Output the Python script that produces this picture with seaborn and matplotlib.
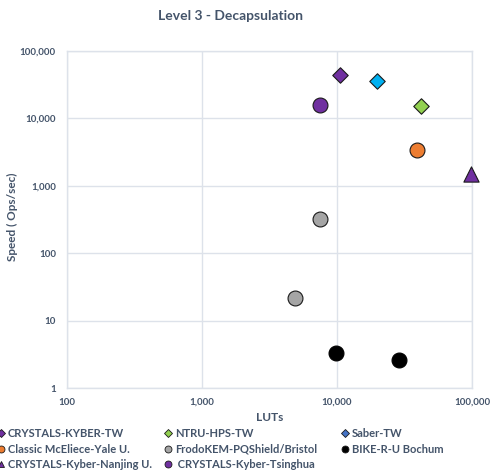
import matplotlib
matplotlib.use("Agg")
import matplotlib.pyplot as plt
from matplotlib.lines import Line2D
from matplotlib.ticker import FuncFormatter, FixedLocator, NullLocator
import seaborn as sns
import pandas as pd

# Implementation results: Level 3 decapsulation
series = [
    "CRYSTALS-KYBER-TW",
    "NTRU-HPS-TW",
    "Saber-TW",
    "Classic McEliece-Yale U.",
    "FrodoKEM-PQShield/Bristol",
    "BIKE-R-U Bochum",
    "CRYSTALS-Kyber-Nanjing U.",
    "CRYSTALS-Kyber-Tsinghua",
]
luts = {
    "CRYSTALS-KYBER-TW": [10500],
    "NTRU-HPS-TW": [41900],
    "Saber-TW": [19800],
    "Classic McEliece-Yale U.": [39100],
    "FrodoKEM-PQShield/Bristol": [7480, 4880],
    "BIKE-R-U Bochum": [9840, 28800],
    "CRYSTALS-Kyber-Nanjing U.": [98400],
    "CRYSTALS-Kyber-Tsinghua": [7480],
}
speed = {
    "CRYSTALS-KYBER-TW": [44200],
    "NTRU-HPS-TW": [15400],
    "Saber-TW": [36000],
    "Classic McEliece-Yale U.": [3430],
    "FrodoKEM-PQShield/Bristol": [327, 21.4],
    "BIKE-R-U Bochum": [3.3, 2.6],
    "CRYSTALS-Kyber-Nanjing U.": [1515],
    "CRYSTALS-Kyber-Tsinghua": [15900],
}
x_ticks = [100, 1000, 10000, 100000]
y_ticks = [1, 10, 100, 1000, 10000, 100000]

colors = {
    "CRYSTALS-KYBER-TW": "#7030A0",
    "NTRU-HPS-TW": "#92D050",
    "Saber-TW": "#00B0F0",
    "Classic McEliece-Yale U.": "#ED7D31",
    "FrodoKEM-PQShield/Bristol": "#A5A5A5",
    "BIKE-R-U Bochum": "#000000",
    "CRYSTALS-Kyber-Nanjing U.": "#7030A0",
    "CRYSTALS-Kyber-Tsinghua": "#7030A0",
}
legend_colors = dict(colors, **{"Saber-TW": "#4472C4"})
markers = {
    "CRYSTALS-KYBER-TW": "D",
    "NTRU-HPS-TW": "D",
    "Saber-TW": "D",
    "Classic McEliece-Yale U.": "o",
    "FrodoKEM-PQShield/Bristol": "o",
    "BIKE-R-U Bochum": "o",
    "CRYSTALS-Kyber-Nanjing U.": "^",
    "CRYSTALS-Kyber-Tsinghua": "o",
}
sizes = {"D": 62, "o": 115, "^": 120}

rows = []
for name in series:
    for xv, yv in zip(luts[name], speed[name]):
        rows.append({"series": name, "LUTs": xv, "speed": yv})
df = pd.DataFrame(rows)

sns.set_theme(style="white")
plt.rcParams["font.family"] = ["Lato", "DejaVu Sans"]
text_color = "#44546A"
grid_color = "#DDE2EA"

fig = plt.figure(figsize=(4.95, 4.76), dpi=100)
ax = fig.add_axes([67 / 495, 1 - 388 / 476, (472 - 67) / 495, (388 - 51) / 476])

for name in series:
    sub = df[df["series"] == name]
    m = markers[name]
    sns.scatterplot(
        data=sub, x="LUTs", y="speed", ax=ax, color=colors[name], marker=m,
        s=sizes[m], edgecolor="#1a1a1a" if name != "BIKE-R-U Bochum" else "#000000",
        linewidth=0.8, legend=False, zorder=3, clip_on=False,
    )

ax.set_xscale("log")
ax.set_yscale("log")
ax.set_xlim(100, 100000)
ax.set_ylim(1, 100000)
ax.xaxis.set_major_locator(FixedLocator(x_ticks))
ax.yaxis.set_major_locator(FixedLocator(y_ticks))
ax.xaxis.set_minor_locator(NullLocator())
ax.yaxis.set_minor_locator(NullLocator())
fmt = FuncFormatter(lambda v, p: f"{int(round(v)):,}")
ax.xaxis.set_major_formatter(fmt)
ax.yaxis.set_major_formatter(fmt)
ax.grid(True, color=grid_color, linewidth=1.0, zorder=0)
ax.set_axisbelow(True)
for sp in ax.spines.values():
    sp.set_color(grid_color)
    sp.set_linewidth(1.0)
ax.tick_params(axis="both", length=0, labelsize=7, labelcolor=text_color)
ax.tick_params(axis="x", pad=7)
ax.tick_params(axis="y", pad=8)
for lab in ax.get_xticklabels() + ax.get_yticklabels():
    lab.set_fontweight("bold")

ax.set_xlabel("LUTs", fontsize=8.5, fontweight="bold", color=text_color, labelpad=4)
ax.set_ylabel("")
fig.text(12 / 495, 1 - 217 / 476, "Speed ( Ops/sec)", rotation=90, ha="center", va="center",
         fontsize=8.5, fontweight="bold", color=text_color)

fig.text(230 / 495, 1 - 16 / 476, "Level 3 - Decapsulation", ha="center", va="center",
         fontsize=10, fontweight="bold", color=text_color)

# Legend laid out in three columns
columns = [
    (["CRYSTALS-KYBER-TW", "Classic McEliece-Yale U.", "CRYSTALS-Kyber-Nanjing U."], -4),
    (["NTRU-HPS-TW", "FrodoKEM-PQShield/Bristol", "CRYSTALS-Kyber-Tsinghua"], 163),
    (["Saber-TW", "BIKE-R-U Bochum"], 340),
]
for names, x0 in columns:
    handles = [
        Line2D([], [], linestyle="none", marker=markers[n], markersize=5 if markers[n] != "D" else 4.2,
               markerfacecolor=legend_colors[n], markeredgecolor="#1a1a1a", markeredgewidth=0.6)
        for n in names
    ]
    labels = [(" " + n) if n == "CRYSTALS-Kyber-Tsinghua" else n for n in names]
    leg = fig.legend(
        handles, labels, loc="upper left", bbox_to_anchor=(x0 / 495, 1 - 428 / 476),
        frameon=False, fontsize=8, handlelength=0.9, handletextpad=0.15,
        borderpad=0, borderaxespad=0, labelspacing=0.42,
    )
    for t in leg.get_texts():
        t.set_color(text_color)
        t.set_fontweight("bold")

fig.savefig("out.png", dpi=100)
